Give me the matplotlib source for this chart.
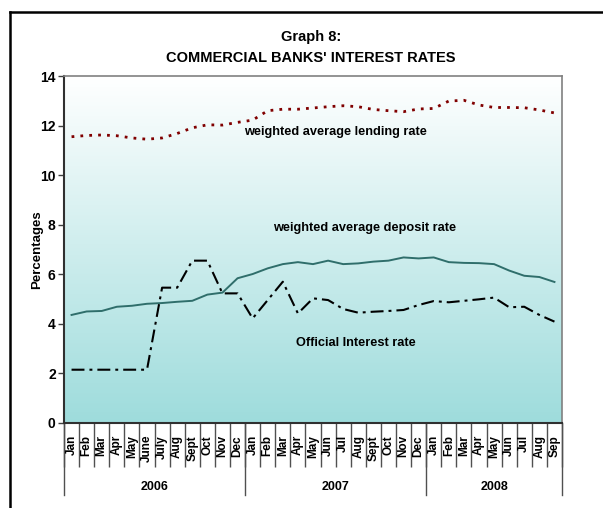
import numpy as np
import matplotlib
matplotlib.use('Agg')
import matplotlib.pyplot as plt
from matplotlib.lines import Line2D
from matplotlib.colors import LinearSegmentedColormap

months = ['Jan', 'Feb', 'Mar', 'Apr', 'May', 'June', 'July', 'Aug', 'Sept', 'Oct', 'Nov', 'Dec',
          'Jan', 'Feb', 'Mar', 'Apr', 'May', 'Jun', 'Jul', 'Aug', 'Sept', 'Oct', 'Nov', 'Dec',
          'Jan', 'Feb', 'Mar', 'Apr', 'May', 'Jun', 'Jul', 'Aug', 'Sep']
years = ['2006', '2007', '2008']
year_len = [12, 12, 9]

lending = [11.55, 11.60, 11.62, 11.59, 11.50, 11.45, 11.50, 11.68, 11.91, 12.03, 12.02, 12.13,
           12.22, 12.60, 12.66, 12.66, 12.71, 12.76, 12.80, 12.76, 12.65, 12.60, 12.56, 12.67,
           12.69, 12.99, 13.02, 12.83, 12.73, 12.73, 12.72, 12.63, 12.51]
deposit = [4.36, 4.50, 4.52, 4.69, 4.73, 4.81, 4.84, 4.89, 4.93, 5.18, 5.26, 5.84,
           6.01, 6.24, 6.41, 6.49, 6.41, 6.55, 6.41, 6.44, 6.51, 6.55, 6.68, 6.64,
           6.68, 6.49, 6.46, 6.45, 6.41, 6.15, 5.94, 5.89, 5.69]
official = [2.15, 2.15, 2.15, 2.15, 2.15, 2.15, 5.46, 5.46, 6.55, 6.55, 5.23, 5.23,
            4.22, 4.96, 5.70, 4.42, 5.03, 4.96, 4.60, 4.45, 4.49, 4.52, 4.56, 4.76,
            4.92, 4.87, 4.93, 4.99, 5.06, 4.67, 4.69, 4.36, 4.09]

plt.rcParams['font.family'] = ['Liberation Sans', 'DejaVu Sans']
plt.rcParams['font.weight'] = 'bold'

W, H = 603, 508
fig = plt.figure(figsize=(W / 100, H / 100), dpi=100)
ax = fig.add_axes([64 / W, 1 - 423 / H, 498 / W, 347 / H])

n = len(months)
x = np.arange(n) + 0.5

# background gradient
grad = np.linspace(0, 1, 256).reshape(-1, 1)
cmap = LinearSegmentedColormap.from_list('bg', ['#ffffff', '#9edcdc'])
ax.imshow(grad, cmap=cmap, extent=(0, n, 0, 14), origin='upper', aspect='auto', zorder=0)

ax.plot(x, lending, color='#800000', lw=2, linestyle=(0, (1, 2.2)), dash_capstyle='butt', zorder=3)
ax.plot(x, deposit, color='#2f6e6b', lw=1.4, zorder=3)
ax.plot(x, official, color='black', lw=1.5, linestyle=(0, (6.2, 2.4, 1.4, 2.4)), zorder=3)

ax.set_xlim(0, n)
ax.set_ylim(0, 14)
ax.set_yticks(range(0, 15, 2))
ax.tick_params(axis='y', direction='out', length=4, width=1, color='#404040', labelsize=10, pad=2)
ax.set_xticks(np.arange(n + 1))
ax.set_xticklabels([])
ax.tick_params(axis='x', direction='out', length=31.5, width=1, color='#505050')

for s in ['left', 'bottom']:
    ax.spines[s].set_color('#303030')
    ax.spines[s].set_linewidth(1.5)
for s in ['top', 'right']:
    ax.spines[s].set_color('#808080')
    ax.spines[s].set_linewidth(1.2)

# month labels
for i, m in enumerate(months):
    ax.text(x[i], -12 / 347, m, rotation=90, ha='center', va='top', fontsize=8.5,
            transform=ax.get_xaxis_transform())

# year separators and labels
start = 0
bounds = [0]
for y, l in zip(years, year_len):
    ax.text(start + l / 2, -64 / 347, y, ha='center', va='center', fontsize=9,
            transform=ax.get_xaxis_transform())
    start += l
    bounds.append(start)
for b in bounds:
    ax.add_line(Line2D([b, b], [0, -72 / 347], color='#505050', lw=1,
                       transform=ax.get_xaxis_transform(), clip_on=False))

ax.set_ylabel('Percentages', fontsize=9.5, fontweight='bold')
ax.yaxis.set_label_coords(-21 / 498, 0.5)

ax.text(17.96, 11.74, 'weighted average lending rate', ha='center', va='center', fontsize=9.2, zorder=4)
ax.text(19.95, 7.87, 'weighted average deposit rate', ha='center', va='center', fontsize=9.2, zorder=4)
ax.text(19.35, 3.23, 'Official Interest rate', ha='center', va='center', fontsize=9.2, zorder=4)

fig.text(311 / W, 1 - 37 / H, 'Graph 8:', ha='center', va='center', fontsize=10.5)
fig.text(311 / W, 1 - 58 / H, "COMMERCIAL BANKS' INTEREST RATES", ha='center', va='center', fontsize=10.5)

# outer frame
fig.add_artist(Line2D([10 / W, 10 / W], [0, 1 - 12 / H], color='black', lw=1.8))
fig.add_artist(Line2D([10 / W, 1], [1 - 12 / H, 1 - 12 / H], color='black', lw=1.8))

fig.savefig('out.png', dpi=100)
